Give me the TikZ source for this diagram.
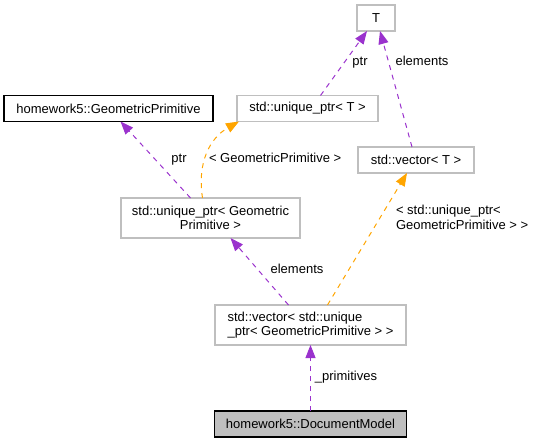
\documentclass[tikz,border=0pt]{standalone}
\usepackage{fontspec}
\setmainfont{Liberation Sans}
\usetikzlibrary{arrows.meta}
\definecolor{edgepurple}{HTML}{9A32CD}
\definecolor{edgeorange}{HTML}{FFA500}
\definecolor{boxgray}{HTML}{BFBFBF}
\begin{document}
\begin{tikzpicture}[x=1pt,y=-1pt,inner sep=0pt,outer sep=0pt,line width=1pt,
font=\fontsize{13}{14.5}\selectfont,
>={Triangle[length=13pt,width=10pt]},
classbox/.style={draw=boxgray,rectangle,minimum height=26pt,line width=1.3pt},
mainbox/.style={draw=black,rectangle,minimum height=26pt,line width=1.3pt},
usage/.style={->,edgepurple,dash pattern=on 5pt off 5pt},
tmpl/.style={->,edgeorange,dash pattern=on 5pt off 5pt},
lbl/.style={text height=9.4pt,text depth=2.8pt}]
\useasboundingbox (0,0) rectangle (537,443);
\draw (376,18) node[classbox,minimum width=38pt] (T) {T};
\draw (108.5,108.5) node[mainbox,minimum width=209pt] (gp) {homework5::GeometricPrimitive};
\draw (307.5,108.5) node[classbox,minimum width=141pt] (uptrT) {std::unique\_ptr< T >};
\draw (416,160) node[classbox,minimum width=116pt] (vecT) {std::vector< T >};
\draw (210.5,218) node[classbox,minimum width=179pt,minimum height=40pt,align=center] (uptrgp) {std::unique\_ptr< Geometric\\Primitive >};
\draw (310.5,325) node[classbox,minimum width=191pt,minimum height=40pt,align=left] (vecgp) {std::vector< std::unique\\\_ptr< GeometricPrimitive > >};
\draw (310.5,424) node[mainbox,fill=boxgray,minimum width=192pt] (doc) {homework5::DocumentModel};
\draw[usage] (doc) -- (vecgp);
\draw[usage] ([xshift=-22pt]vecgp.north) -- ([xshift=20pt]uptrgp.south);
\draw[tmpl] ([xshift=17pt]vecgp.north) -- ([xshift=-9pt]vecT.south);
\draw[usage] ([xshift=-20pt]uptrgp.north) -- ([xshift=12pt]gp.south);
\draw[tmpl] ([xshift=-8pt]uptrgp.north) .. controls (197,162) and (210,138) .. ([xshift=2pt]uptrT.south west);
\draw[usage] ([xshift=13pt]uptrT.north) -- ([xshift=-9pt]T.south);
\draw[usage] ([xshift=-4pt]vecT.north) -- ([xshift=4pt]T.south);
\draw (346,377) node[lbl] (lprim) {\_primitives};
\draw (297,270) node[lbl] (lelem1) {elements};
\draw (396,217.5) node[anchor=west,align=left] (ltmpl1) {< std::unique\_ptr<\\GeometricPrimitive > >};
\draw (179,159) node[lbl] (lptr1) {ptr};
\draw (209,159) node[lbl,anchor=west] (ltmpl2) {< GeometricPrimitive >};
\draw (360,62) node[lbl] (lptr2) {ptr};
\draw (422,62) node[lbl] (lelem2) {elements};
\end{tikzpicture}
\end{document}
